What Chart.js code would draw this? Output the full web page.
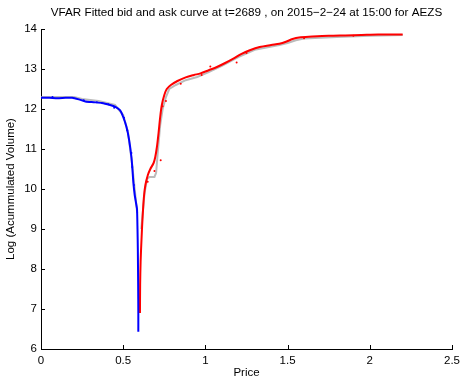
<!DOCTYPE html>
<html>
<head>
<meta charset="utf-8">
<script src="https://cdn.jsdelivr.net/npm/chart.js@4"></script>
<style>
  body { margin: 0; background: #fff; }
  canvas { display: block; }
</style>
</head>
<body>
<canvas id="myChart" width="460" height="380"></canvas>
<script>
// Fitted bid curve (blue)
const bidPrice = [0, 0.05, 0.10, 0.15, 0.19, 0.23, 0.27, 0.32, 0.37, 0.42, 0.45, 0.48, 0.50, 0.52, 0.535, 0.55, 0.556, 0.562, 0.570, 0.578, 0.584, 0.587, 0.589, 0.591, 0.592, 0.592];
const bidFit   = [12.28, 12.28, 12.27, 12.28, 12.28, 12.24, 12.19, 12.17, 12.15, 12.10, 12.06, 11.97, 11.80, 11.55, 11.25, 10.80, 10.50, 10.15, 9.85, 9.65, 9.50, 9.0, 8.5, 7.6, 6.9, 6.43];

// Fitted ask curve (red)
const askPrice = [0.602, 0.603, 0.606, 0.612, 0.618, 0.626, 0.635, 0.650, 0.665, 0.685, 0.695, 0.705, 0.715, 0.725, 0.735, 0.75, 0.765, 0.79, 0.83, 0.88, 0.93, 0.97, 1.02, 1.07, 1.12, 1.17, 1.22, 1.27, 1.33, 1.40, 1.45, 1.49, 1.53, 1.57, 1.65, 1.75, 1.85, 1.95, 2.05, 2.20];
const askFit   = [6.90, 7.6, 8.2, 8.8, 9.3, 9.8, 10.1, 10.35, 10.5, 10.65, 10.8, 11.05, 11.4, 11.8, 12.1, 12.35, 12.5, 12.6, 12.7, 12.79, 12.85, 12.89, 12.97, 13.05, 13.15, 13.26, 13.38, 13.47, 13.55, 13.6, 13.63, 13.68, 13.75, 13.79, 13.81, 13.83, 13.84, 13.85, 13.86, 13.86];

// Raw curves (gray)
const bidRawPrice = [0, 0.2, 0.25, 0.35, 0.45, 0.5, 0.53, 0.555, 0.575, 0.585];
const bidRaw      = [12.3, 12.3, 12.25, 12.2, 12.1, 11.85, 11.4, 10.6, 9.8, 9.4];
const askRawPrice = [0.61, 0.63, 0.645, 0.66, 0.69, 0.70, 0.71, 0.725, 0.74, 0.76, 0.78, 0.82, 0.88, 0.95, 1.02, 1.1, 1.2, 1.3, 1.45, 1.5, 1.55, 1.6, 1.8, 2.0, 2.2];
const askRaw      = [9.0, 9.9, 10.25, 10.3, 10.3, 10.4, 10.9, 11.6, 12.0, 12.3, 12.5, 12.6, 12.72, 12.8, 12.92, 13.08, 13.3, 13.48, 13.6, 13.65, 13.72, 13.76, 13.8, 13.83, 13.85];

// Observation dots
const bidDotPrice = [0.07, 0.26, 0.34, 0.41, 0.445, 0.505, 0.525, 0.55, 0.555, 0.565];
const bidDots     = [12.3, 12.22, 12.17, 12.12, 12.03, 11.78, 11.47, 10.9, 10.55, 10.1];
const askDotPrice = [0.649, 0.69, 0.728, 0.74, 0.76, 0.85, 0.977, 1.03, 1.19, 1.25, 1.6, 1.9];
const askDots     = [10.18, 10.45, 10.72, 12.07, 12.2, 12.63, 12.85, 13.06, 13.16, 13.4, 13.77, 13.83];

const xTicks = [0, 0.5, 1, 1.5, 2, 2.5];
const yTicks = [6, 7, 8, 9, 10, 11, 12, 13, 14];
const titleText = 'VFAR Fitted bid and ask curve at t=2689 , on 2015\u22122\u221224 at 15:00 for AEZS';

const toXY = (xs, ys) => xs.map((x, i) => ({ x: x, y: ys[i] }));

// inward tick marks + title centred over the axes, matlab style
const matlabAxes = {
  id: 'matlabAxes',
  afterDraw(chart) {
    const { ctx, chartArea, scales } = chart;
    ctx.save();
    ctx.strokeStyle = '#000';
    ctx.lineWidth = 1;
    ctx.beginPath();
    xTicks.forEach(v => {
      const px = Math.round(scales.x.getPixelForValue(v)) + 0.5;
      ctx.moveTo(px, chartArea.bottom);
      ctx.lineTo(px, chartArea.bottom - 4);
    });
    yTicks.forEach(v => {
      const py = Math.round(scales.y.getPixelForValue(v)) + 0.5;
      ctx.moveTo(chartArea.left, py);
      ctx.lineTo(chartArea.left + 4, py);
    });
    ctx.stroke();
    ctx.fillStyle = '#000';
    ctx.font = '11.7px Arial, "Liberation Sans", sans-serif';
    ctx.textAlign = 'center';
    ctx.textBaseline = 'middle';
    ctx.fillText(titleText, (chartArea.left + chartArea.right) / 2, 13);
    ctx.restore();
  }
};

const ctx = document.getElementById('myChart').getContext('2d');
Chart.defaults.font.family = 'Arial, "Liberation Sans", sans-serif';
Chart.defaults.font.size = 11.5;
Chart.defaults.color = '#000';

new Chart(ctx, {
  type: 'scatter',
  data: {
    datasets: [
      { data: toXY(bidRawPrice, bidRaw), showLine: true, borderColor: 'rgba(170,170,170,0.8)', borderWidth: 2, pointRadius: 0, order: 3 },
      { data: toXY(askRawPrice, askRaw), showLine: true, borderColor: 'rgba(170,170,170,0.8)', borderWidth: 2, pointRadius: 0, order: 3 },
      { data: toXY(bidDotPrice, bidDots), backgroundColor: '#0000ff', borderWidth: 0, pointRadius: 1, order: 2 },
      { data: toXY(askDotPrice, askDots), backgroundColor: '#ff0000', borderWidth: 0, pointRadius: 1, order: 2 },
      { data: toXY(bidPrice, bidFit), showLine: true, borderColor: '#0000ff', borderWidth: 2, pointRadius: 0, tension: 0.2, order: 1 },
      { data: toXY(askPrice, askFit), showLine: true, borderColor: '#ff0000', borderWidth: 2, pointRadius: 0, tension: 0.3, order: 1 }
    ]
  },
  options: {
    responsive: false,
    animation: false,
    layout: { padding: { top: 29, right: 8 } },
    plugins: {
      legend: { display: false },
      tooltip: { enabled: false },
      title: { display: false }
    },
    scales: {
      x: {
        type: 'linear',
        min: 0,
        max: 2.5,
        afterFit: s => { s.height = 31; s.paddingLeft = 0; s.paddingRight = 0; },
        afterBuildTicks: s => { s.ticks = xTicks.map(v => ({ value: v })); },
        ticks: { padding: 5, maxRotation: 0, callback: v => String(v) },
        grid: { drawOnChartArea: false, drawTicks: false },
        border: { display: true, color: '#000', width: 1 },
        title: { display: true, text: 'Price', padding: { top: 0, bottom: 0 } }
      },
      y: {
        min: 6,
        max: 14,
        afterFit: s => { s.width = 41; s.paddingTop = 0; s.paddingBottom = 0; },
        afterBuildTicks: s => { s.ticks = yTicks.map(v => ({ value: v })); },
        ticks: { padding: 4 },
        grid: { drawOnChartArea: false, drawTicks: false },
        border: { display: true, color: '#000', width: 1 },
        title: { display: true, text: 'Log (Acummulated Volume)', padding: { top: 4, bottom: 0 } }
      }
    }
  },
  plugins: [matlabAxes]
});
</script>
</body>
</html>
